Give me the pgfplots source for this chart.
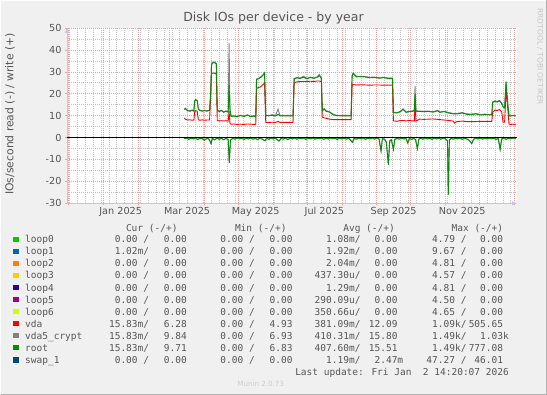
\documentclass[border=0pt]{standalone}
\usepackage{fontspec}
\setmainfont{DejaVu Sans}
\newfontfamily\mono{DejaVu Sans Mono}
\usepackage{pgfplots}
\usepackage{pgfplotstable}
\pgfplotsset{compat=1.18}
\usetikzlibrary{arrows.meta}

\definecolor{bg}{HTML}{F0F0F0}
\definecolor{txt}{HTML}{555555}
\definecolor{axcol}{HTML}{C4C4F2}
\definecolor{mgrid}{HTML}{EFA0A0}
\definecolor{ngrid}{HTML}{C4C4C4}
\definecolor{cloopa}{HTML}{00CC00}
\definecolor{cloopb}{HTML}{0066B3}
\definecolor{cloopc}{HTML}{FF8000}
\definecolor{cloopd}{HTML}{FFCC00}
\definecolor{cloope}{HTML}{330099}
\definecolor{cloopf}{HTML}{990099}
\definecolor{cloopg}{HTML}{CCFF00}
\definecolor{cvda}{HTML}{FF0000}
\definecolor{ccrypt}{HTML}{808080}
\definecolor{croot}{HTML}{008F00}
\definecolor{cswap}{HTML}{00487D}

% write (+): day since 1 Dec 2024, vda, vda5_crypt, root
\pgfplotstableread{
day vda crypt root
103 9.0 13.0 12.8
104 8.4 13.4 13.2
106 8.0 12.4 12.2
108 8.1 12.2 12.0
110 7.9 12.6 12.4
111.5 8.0 12.2 12.0
112.2 11.5 16.8 16.5
113 12.3 17.4 17.2
114.5 12.0 17.0 16.8
115.5 8.1 13.0 12.8
117 7.9 12.5 12.3
119 8.1 12.2 12.0
121 7.9 12.5 12.3
123 8.0 12.2 12.0
125.5 8.0 12.6 12.4
126.5 20.0 21.0 20.5
127.2 29.0 33.5 33.0
128 29.4 34.4 34.0
130 29.4 34.5 34.2
131.5 29.0 33.8 33.5
132.3 7.8 12.7 12.5
134 7.6 12.0 11.8
136 7.7 12.5 12.3
138 7.6 11.7 11.5
140 7.7 12.2 12.0
142 7.5 11.8 11.6
142.8 12.0 43.0 24.0
143.6 6.5 13.0 12.5
144.6 6.1 9.8 9.6
147 6.2 10.0 9.8
150 6.0 9.7 9.5
153 6.1 10.2 10.0
156 6.0 9.8 9.6
159 6.2 10.4 10.2
162 6.1 9.7 9.5
165 6.0 10.0 9.8
166.5 6.0 9.6 9.4
167.2 22.5 26.7 26.5
169 22.8 27.0 26.8
171 23.3 27.7 27.5
173 24.2 28.7 28.5
174.3 24.8 29.6 29.4
175.4 6.9 10.2 10.0
178 6.9 10.1 9.9
181 7.0 10.4 10.2
184 6.9 10.0 9.8
186.3 7.4 13.0 10.6
188 6.9 10.1 9.9
191 6.9 10.1 9.9
195 6.9 10.1 9.9
199.6 6.9 10.1 9.9
200.6 25.0 27.0 26.8
203 25.4 27.4 27.2
206 25.6 27.2 27.0
209 25.6 28.0 27.5
212 25.6 27.0 26.8
215 25.7 27.6 27.4
218 25.6 27.2 27.0
221 25.8 27.7 27.5
223 25.8 28.8 28.3
224.8 25.5 27.2 27.0
225.6 9.3 12.4 12.2
227.2 9.0 13.2 13.0
229 8.8 12.2 12.0
232 8.4 11.8 11.6
235 8.2 10.7 10.5
238 8.2 10.2 10.0
242 8.2 10.1 9.9
246 8.2 10.1 9.9
251.2 8.2 10.1 9.9
252.1 24.2 28.2 28.0
253 24.2 29.5 29.2
256 24.0 27.9 27.7
260 24.1 28.0 27.8
264 24.0 27.8 27.6
268 23.9 27.5 27.3
272 24.0 27.6 27.4
276 24.0 27.3 27.1
280 23.9 27.5 27.3
284 23.9 27.2 27.0
288 23.9 27.2 27.0
288.8 7.6 11.6 11.4
292 7.4 11.4 11.2
295 7.8 12.0 11.8
297.4 7.8 13.1 12.9
300 7.6 11.7 11.5
303 7.8 12.0 11.8
306 7.6 12.2 12.0
307.4 7.6 12.5 12.3
308 16.4 23.6 20.0
308.8 7.5 12.2 12.0
312 8.4 12.1 11.9
316 8.3 12.0 11.8
320 8.4 12.1 11.9
324 8.5 11.8 11.6
328 8.3 12.4 12.2
330 8.2 11.7 11.5
334 8.0 12.0 11.8
338 7.8 11.4 11.2
342 7.5 11.0 10.8
343 6.6 11.0 10.8
345 7.3 11.0 10.8
350 7.5 11.4 11.2
354 7.3 10.8 10.6
358 7.3 10.7 10.5
362 7.3 11.0 10.8
366 7.4 10.5 10.3
370 7.4 10.7 10.5
374 7.4 10.5 10.3
376.2 7.4 10.6 10.4
377 11.5 16.3 16.0
379 12.6 16.8 16.5
381 12.3 16.5 16.2
383 12.8 17.0 16.8
385 11.8 15.8 15.5
386.2 7.0 14.3 14.0
387.6 7.0 13.8 13.5
388.9 21.8 25.6 25.3
389.6 18.0 20.3 20.0
390.6 12.0 14.3 14.0
391.5 6.1 10.1 9.9
393 6.0 10.0 9.8
395 6.1 10.2 10.0
397.5 5.8 10.0 9.8
}\writetab

% read (-): day, root read (negated)
\pgfplotstableread{
day root
103 -0.5
105 -0.2
107 -0.8
109 -0.3
111 -0.6
113 -0.2
115 -0.9
117 -0.3
119 -0.5
121 -1.2
123 -0.3
125 -0.7
126.8 -2.8
128 -0.4
130 -1.0
132 -0.3
134 -0.8
136 -0.3
138 -1.0
140 -0.4
142 -0.9
143.0 -11.5
144 -1.2
146 -0.4
148 -0.7
150 -0.2
152 -0.6
154 -0.3
156 -0.8
158 -0.3
160 -0.6
162 -0.2
164 -0.7
166 -0.4
168 -0.9
170 -0.3
172 -0.6
174.8 -1.5
176 -0.3
178 -0.8
180 -0.2
182 -0.6
184 -0.3
187.2 -1.6
189 -0.4
191 -0.7
193 -0.2
195 -0.9
197 -0.3
199 -0.6
201 -0.2
203 -0.7
205 -0.3
207 -0.5
209 -0.2
211 -0.8
213 -0.3
215 -0.6
217 -0.2
219 -0.7
221 -0.3
223 -0.5
225 -0.2
227 -0.8
229 -0.3
231 -0.6
233 -0.2
235 -0.5
237 -0.3
239 -0.8
241 -0.2
243 -0.6
245 -0.3
247 -0.7
249 -0.2
252.3 -2.2
254 -0.4
256 -0.7
258 -0.3
260 -0.6
262 -0.2
264 -0.8
266 -0.3
268 -0.5
270 -0.2
272 -0.7
274 -0.3
276 -0.6
277.8 -6.1
279 -0.5
281 -0.8
282.5 -2.0
284.3 -12.3
285.5 -1.5
287 -1.0
288.8 -5.4
290 -0.8
292 -0.4
294 -0.7
296 -0.3
298 -0.6
300 -0.4
301.6 -2.5
303 -0.5
305 -0.8
307 -0.3
308.5 -1.0
310.1 -5.0
311.5 -0.6
313 -0.3
315 -0.7
317 -0.2
319 -0.6
321 -0.3
323 -0.8
325 -0.2
327 -0.6
329 -0.3
331 -0.7
333 -0.2
335 -0.5
336.8 -1.5
337.6 -26.0
338.5 -1.2
340 -0.4
342 -0.7
344 -0.3
346 -0.6
348 -0.2
350 -0.8
352 -0.3
354 -0.6
356 -1.2
358.4 -2.7
360 -0.8
362 -0.3
364 -0.6
366 -0.2
368 -0.7
370 -0.3
372 -0.6
374 -0.2
376 -0.5
378 -0.3
380 -0.8
382 -0.4
383.6 -5.4
385 -0.6
387 -0.3
389 -0.8
391 -0.3
393 -0.6
395 -0.2
397.5 -0.5
}\readtab

\newcommand{\legname}[3]{%
  \fill[#2] (13.3,{395-#1-2.6}) rectangle (18.6,{395-#1+2.6});
  \node[anchor=base west,inner sep=0pt,text=txt,font=\mono\fontsize{9.5}{10}\selectfont] at (25,{391.5-#1}) {#3};}
\newcommand{\legvals}[9]{%
  \begin{scope}[every node/.style={anchor=base east,inner sep=0pt,text=txt,font=\mono\fontsize{9.5}{10}\selectfont}]
  \node at (149.3,{391.5-#1}) {#2};
  \node at (192.7,{391.5-#1}) {#3};
  \node at (255,{391.5-#1}) {#4};
  \node at (298.4,{391.5-#1}) {#5};
  \node at (360.7,{391.5-#1}) {#6};
  \node at (403.4,{391.5-#1}) {#7};
  \node at (466.7,{391.5-#1}) {#8};
  \node at (509,{391.5-#1}) {#9};
  \end{scope}}
\newcommand{\p}{\phantom{0}}

\begin{document}
\begin{tikzpicture}[x=1pt,y=1pt]
\useasboundingbox (0,0) rectangle (547,395);
\fill[bg] (0,0) rectangle (547,395);
\draw[white,line width=1pt] (0.5,0.5) -- (0.5,394.5) -- (546.5,394.5);
\draw[gray!60,line width=1pt] (0.5,0.5) -- (546.5,0.5) -- (546.5,394.5);

\begin{axis}[
  at={(67pt,191.7pt)}, anchor=south west,
  width=450pt, height=175.3pt, scale only axis,
  xmin=-1.2, xmax=398.6, ymin=-30, ymax=50,
  axis background/.style={fill=white},
  axis lines=left,
  axis line style={draw=axcol, line width=0.8pt, -{Triangle[width=4pt,length=5pt]}},
  xtick={0,31,62,90,121,151,182,212,243,274,304,335,365,396},
  xticklabels={},
  minor xtick={1,8,...,396},
  extra x ticks={46.5,105.5,166.5,227.5,289,350},
  extra x tick labels={Jan 2025,Mar 2025,May 2025,Jul 2025,Sep 2025,Nov 2025},
  extra x tick style={grid=none, major tick length=0pt},
  ytick={-30,-20,...,50},
  minor y tick num=1,
  grid=both,
  major grid style={mgrid, line width=0.6pt, dash pattern=on 1pt off 1pt},
  minor grid style={ngrid, line width=0.6pt, dash pattern=on 1pt off 1pt},
  major tick length=2pt, minor tick length=0pt,
  tick style={mgrid, line width=0.6pt},
  tick align=outside,
  /pgf/number format/assume math mode=true,
  tick label style={font=\fontsize{9.7}{11}\selectfont, text=txt},
  xticklabel style={yshift=-0.5pt},
  clip=false,
]
\addplot[ccrypt, line width=0.9pt] table[x=day,y=crypt] {\writetab};
\addplot[cvda, line width=0.9pt] table[x=day,y=vda] {\writetab};
\addplot[croot, line width=0.9pt] table[x=day,y=root] {\writetab};
\addplot[ccrypt, line width=0.9pt] table[x=day,y=root] {\readtab};
\addplot[croot, line width=0.9pt] table[x=day,y=root] {\readtab};
\addplot[black, line width=0.9pt] coordinates {(-1.2,0) (398.6,0)};
\end{axis}

\node[text=txt, font=\fontsize{12.5}{14}\selectfont] at (273.5,377) {Disk IOs per device - by year};
\node[text=txt, rotate=90, font=\fontsize{10.8}{12}\selectfont] at (10,281) {IOs/second read (-) / write (+)};
\node[text=black!22, rotate=-90, anchor=west, font=\fontsize{7.5}{8}\selectfont] at (540,390) {RRDTOOL / TOBI OETIKER};

\begin{scope}[every node/.style={anchor=base east,inner sep=0pt,text=txt,font=\mono\fontsize{9.5}{10}\selectfont}]
\node at (177.7,{391.5-227.7}) {Cur (-/+)};
\node at (286.7,{391.5-227.7}) {Min (-/+)};
\node at (395,{391.5-227.7}) {Avg (-/+)};
\node at (503.3,{391.5-227.7}) {Max (-/+)};
\node at (509,{391.5-371.7}) {Last update: Fri Jan\ \ 2 14:20:07 2026};
\end{scope}

\legname{239.3}{cloopa}{loop0}
\legvals{239.3}{0.00 /}{0.00\p}{0.00 /}{0.00\p}{1.08m/}{0.00\p}{4.79 /}{0.00\p}
\legname{251.4}{cloopb}{loop1}
\legvals{251.4}{1.02m/}{0.00\p}{0.00 /}{0.00\p}{1.92m/}{0.00\p}{9.67 /}{0.00\p}
\legname{263.4}{cloopc}{loop2}
\legvals{263.4}{0.00 /}{0.00\p}{0.00 /}{0.00\p}{2.04m/}{0.00\p}{4.81 /}{0.00\p}
\legname{275.5}{cloopd}{loop3}
\legvals{275.5}{0.00 /}{0.00\p}{0.00 /}{0.00\p}{437.30u/}{0.00\p}{4.57 /}{0.00\p}
\legname{287.6}{cloope}{loop4}
\legvals{287.6}{0.00 /}{0.00\p}{0.00 /}{0.00\p}{1.29m/}{0.00\p}{4.81 /}{0.00\p}
\legname{299.7}{cloopf}{loop5}
\legvals{299.7}{0.00 /}{0.00\p}{0.00 /}{0.00\p}{290.09u/}{0.00\p}{4.50 /}{0.00\p}
\legname{311.7}{cloopg}{loop6}
\legvals{311.7}{0.00 /}{0.00\p}{0.00 /}{0.00\p}{350.66u/}{0.00\p}{4.65 /}{0.00\p}
\legname{323.8}{cvda}{vda}
\legvals{323.8}{15.83m/}{6.28\p}{0.00 /}{4.93\p}{381.09m/}{12.09\p}{1.09k/}{505.65\p}
\legname{335.9}{ccrypt}{vda5\_crypt}
\legvals{335.9}{15.83m/}{9.84\p}{0.00 /}{6.93\p}{410.31m/}{15.80\p}{1.49k/}{1.03k}
\legname{347.9}{croot}{root}
\legvals{347.9}{15.83m/}{9.71\p}{0.00 /}{6.83\p}{407.60m/}{15.51\p}{1.49k/}{777.08\p}
\legname{360.0}{cswap}{swap\_1}
\legvals{360.0}{0.00 /}{0.00\p}{0.00 /}{0.00\p}{1.19m/}{2.47m}{47.27 /}{46.01\p}

\node[text=black!20, font=\fontsize{7.1}{8}\selectfont] at (260.7,11) {Munin 2.0.73};
\end{tikzpicture}
\end{document}
